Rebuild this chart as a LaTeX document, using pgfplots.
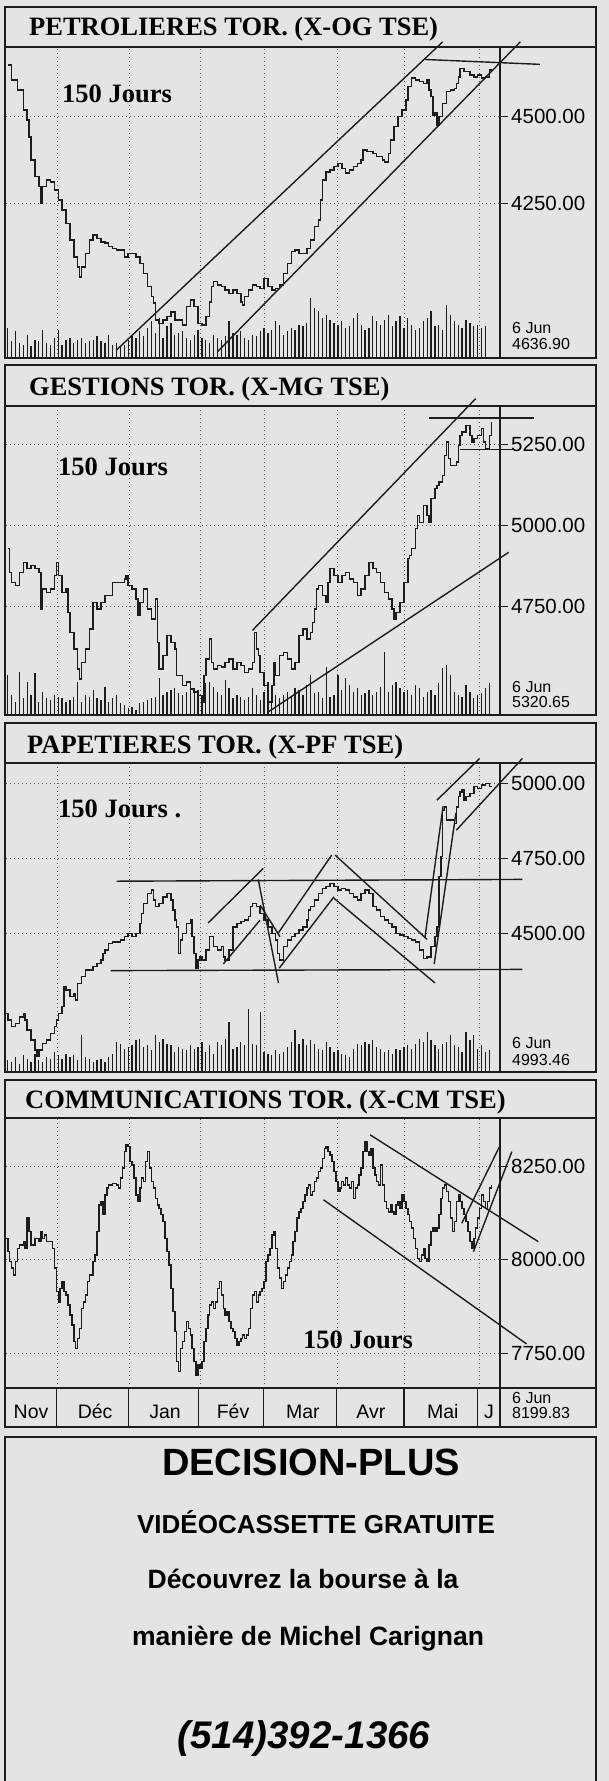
\documentclass[border=0pt]{standalone}
\usepackage{pgfplots}
\pgfplotsset{compat=1.18}
\usepackage{fontspec}
\setmainfont{Liberation Serif}
\newfontfamily\sans{Liberation Sans}
\definecolor{paper}{RGB}{228,228,228}
\definecolor{ink}{RGB}{28,28,28}
\newcommand\tickfont{\sans\fontsize{20.5}{20.5}\selectfont}
\newcommand\titlefont{\bfseries\fontsize{26.5}{26.5}\selectfont}
\newcommand\datefont{\sans\fontsize{16}{16}\selectfont}
\newcommand\monthfont{\sans\fontsize{19.5}{19.5}\selectfont}
\pgfplotsset{
  price/.style={
    scale only axis, width=494pt,
    xmin=-0.455, xmax=126.75,
    axis line style={draw=none},
    xtick={12.8,31.3,49.5,66,84.8,102.2,121.5},
    xticklabels={},
    xtick style={draw=none},
    xmajorgrids, ymajorgrids,
    grid style={ink!75, line width=1pt, dash pattern=on 1pt off 3pt},
    ytick pos=right,
    tick align=outside,
    major tick length=8pt,
    ytick style={ink, line width=1pt},
    yticklabel style={font=\tickfont, anchor=west, inner sep=0pt, xshift=3pt},
    /pgf/number format/assume math mode=true,
    yticklabel={\pgfmathprintnumber[fixed,fixed zerofill,precision=2,1000 sep={}]{\tick}},
    clip=false,
  },
  vol/.style={scale only axis, width=494pt, xmin=-0.455, xmax=126.75, ymin=0, ymax=930, hide axis},
  pline/.style={const plot, ink, line width=1.5pt},
  trend/.style={ink, line width=1.4pt},
}
\begin{document}
\begin{tikzpicture}[x=1pt,y=1pt]
\useasboundingbox (0,0) rectangle (609,-1781);
\fill[paper] (0,0) rectangle (609,-1781);

% ---------------- Panel 1 : PETROLIERES ----------------
\begin{axis}[price, at={(6pt,-358pt)}, anchor=south west, height=311pt,
  ymin=3804, ymax=4701, ytick={4250,4500}]
\addplot[pline] coordinates {(0,4649)(1,4606)(2.5,4577)(4,4519)(5,4490)(5.5,4442)(6,4375)(7,4327)(8,4298)(8.5,4250)(9,4298)(10,4317)(11,4312)(12,4288)(13,4260)(14,4231)(15,4192)(16,4144)(17,4096)(18,4067)(18.5,4038)(19,4067)(20,4106)(21,4144)(22,4159)(23,4149)(24,4139)(25,4135)(26,4125)(27,4120)(28,4115)(29,4115)(30,4096)(31,4106)(32,4106)(33,4096)(34,4077)(35,4048)(36,4010)(37,3981)(37.5,3962)(38,3914)(39,3904)(40,3914)(41,3923)(42,3937)(43,3914)(44,3914)(45,3899)(46,3952)(47,3971)(48,3952)(49,3904)(50,3899)(51,3923)(52,3966)(52.5,4010)(53,4024)(54,4014)(55,4010)(56,4000)(57,3990)(58,4000)(59,3990)(60,3966)(60.5,3957)(61,3981)(62,4000)(63,4014)(64,4010)(65,4005)(66,4034)(67,4010)(68,4000)(69,4005)(70,4014)(71,4048)(72,4077)(73,4111)(74,4115)(75,4106)(76,4106)(77,4120)(78,4144)(79,4183)(80,4202)(80.5,4260)(81,4317)(82,4341)(83,4346)(84,4356)(85,4365)(86,4351)(87,4337)(88,4346)(89,4356)(90,4365)(91,4375)(91.5,4404)(92.5,4399)(94,4394)(95,4385)(96.5,4375)(97,4370)(98,4394)(98.5,4433)(99.5,4471)(100.5,4500)(101.5,4519)(102.5,4548)(103,4587)(104,4611)(105,4606)(106,4601)(107,4596)(108,4606)(108.5,4577)(109,4558)(109.5,4505)(110,4510)(110.5,4476)(111,4500)(112,4538)(113,4572)(114,4577)(115,4582)(115.5,4596)(116,4615)(116.5,4639)(117.5,4630)(119,4620)(120,4615)(121,4620)(122,4611)(123,4615)(124,4635)(124.5,4637)};
\addplot[trend] coordinates {(28,3827)(112,4716)};
\addplot[trend] coordinates {(54,3822)(132,4716)};
\addplot[trend] coordinates {(107.5,4665)(137,4651)};
\end{axis}
\begin{axis}[vol, at={(6pt,-358pt)}, anchor=south west, height=311pt]
\addplot[ycomb, ink, line width=1.3pt] table[x expr=\coordindex, y index=0, header=false, row sep=\\] {90\\50\\80\\45\\40\\70\\35\\55\\50\\85\\45\\40\\60\\85\\40\\55\\60\\45\\55\\60\\45\\50\\55\\65\\50\\45\\70\\40\\45\\35\\40\\55\\70\\60\\80\\65\\90\\110\\75\\120\\60\\95\\105\\70\\75\\80\\60\\55\\70\\85\\60\\55\\45\\70\\60\\55\\65\\110\\75\\70\\80\\60\\55\\70\\65\\80\\90\\75\\85\\110\\100\\70\\80\\90\\85\\100\\95\\105\\180\\150\\140\\120\\130\\115\\105\\100\\110\\90\\95\\120\\135\\100\\85\\90\\125\\110\\100\\115\\130\\95\\110\\125\\90\\120\\100\\85\\90\\110\\120\\140\\95\\100\\85\\160\\130\\110\\100\\90\\115\\105\\95\\100\\90\\95\\};
\end{axis}

% ---------------- Panel 2 : GESTIONS ----------------
\begin{axis}[price, at={(6pt,-715pt)}, anchor=south west, height=309pt,
  ymin=4413, ymax=5370, ytick={4750,5000,5250}]
\addplot[pline] coordinates {(0,4928)(0.5,4855)(1,4824)(2,4814)(3,4855)(4,4886)(5,4866)(6,4876)(7,4866)(8,4855)(8.5,4742)(9,4804)(10,4793)(11,4804)(12,4845)(12.5,4886)(13,4845)(14,4793)(15,4804)(15.5,4731)(16,4669)(17,4618)(18,4556)(18.5,4525)(19,4576)(20,4618)(21,4680)(22,4762)(23,4742)(24,4762)(25,4783)(26,4783)(27,4824)(28,4824)(29,4824)(30,4835)(30.5,4845)(31,4814)(32,4804)(33,4773)(33.5,4721)(34,4762)(35,4804)(36,4742)(37,4711)(38,4773)(38.5,4638)(39,4556)(40,4597)(41,4659)(42,4638)(43,4618)(43.5,4535)(45,4504)(46,4515)(47,4494)(48,4484)(49,4473)(50,4453)(50.5,4535)(51,4587)(52,4649)(52.5,4576)(53,4556)(54,4566)(55,4561)(56,4576)(57,4587)(58,4556)(59,4576)(60,4566)(61,4545)(62,4556)(63,4576)(63.5,4669)(64,4618)(64.5,4597)(65,4545)(66,4504)(67,4453)(68,4504)(68.5,4576)(69,4535)(70,4597)(71,4607)(72,4587)(73,4556)(74,4576)(75,4659)(76,4680)(77,4649)(78,4669)(78.5,4700)(79,4742)(79.5,4804)(80,4814)(81,4783)(82,4762)(82.5,4824)(83,4866)(84,4845)(85,4824)(86,4845)(87,4855)(88,4835)(89,4824)(90,4783)(91,4804)(92,4845)(93,4886)(94,4866)(95,4855)(96,4824)(97,4793)(98,4773)(99,4742)(99.5,4711)(100,4731)(101,4762)(102,4824)(103,4897)(103.5,4907)(104,4928)(105,4990)(105.5,5031)(106,5010)(107,5062)(108,5031)(108.5,5010)(109,5083)(110,5114)(110.5,5124)(111,5134)(112,5155)(112.5,5217)(113,5258)(113.5,5207)(114,5186)(115,5186)(115.5,5196)(116,5248)(116.5,5279)(117,5289)(118,5310)(119,5279)(119.5,5258)(120,5269)(121,5279)(122,5300)(122.5,5258)(123,5238)(124,5279)(124.5,5321)};
\addplot[trend] coordinates {(63,4675)(120.5,5393)};
\addplot[trend] coordinates {(67,4422)(129,4917)};
\addplot[trend] coordinates {(108.5,5333)(135.5,5333)};
\addplot[trend] coordinates {(116.5,5236)(130.5,5236)};
\end{axis}
\begin{axis}[vol, at={(6pt,-715pt)}, anchor=south west, height=309pt]
\addplot[ycomb, ink, line width=1.3pt] table[x expr=\coordindex, y index=0, header=false, row sep=\\] {120\\60\\40\\130\\50\\100\\60\\125\\40\\70\\50\\45\\60\\55\\50\\40\\45\\55\\100\\40\\60\\55\\75\\50\\45\\85\\40\\50\\60\\35\\30\\20\\25\\15\\35\\40\\45\\50\\55\\110\\60\\70\\75\\80\\65\\60\\70\\90\\80\\75\\60\\95\\100\\85\\70\\60\\105\\80\\50\\60\\55\\45\\55\\80\\60\\45\\70\\100\\55\\60\\50\\60\\70\\55\\80\\75\\60\\90\\120\\65\\70\\50\\145\\55\\60\\120\\75\\110\\90\\70\\80\\60\\65\\75\\60\\70\\85\\190\\70\\90\\100\\80\\70\\75\\60\\90\\80\\55\\70\\75\\60\\95\\140\\150\\120\\70\\60\\55\\90\\70\\50\\60\\65\\80\\95\\};
\end{axis}

% ---------------- Panel 3 : PAPETIERES ----------------
\begin{axis}[price, at={(6pt,-1072pt)}, anchor=south west, height=309pt,
  ymin=4038, ymax=5068, ytick={4500,4750,5000}]
\addplot[pline] coordinates {(-0.4,4233)(0,4211)(1,4189)(2,4200)(3,4222)(4,4233)(4.5,4211)(5,4178)(6,4144)(7,4111)(7.5,4089)(8,4111)(9,4133)(10,4144)(11,4167)(12,4189)(12.5,4211)(13,4233)(14,4256)(14.5,4322)(15,4311)(16,4289)(17,4300)(17.5,4278)(18,4333)(19,4356)(20,4378)(21,4378)(22,4389)(23,4400)(24,4411)(24.5,4433)(25,4444)(26,4467)(27,4472)(28,4472)(29,4478)(30,4489)(31,4500)(32,4489)(33,4500)(34,4533)(34.5,4567)(35,4600)(36,4633)(37,4644)(37.5,4611)(38,4589)(39,4600)(40,4622)(41,4633)(42,4611)(42.5,4578)(43,4545)(43.5,4522)(44,4433)(44.5,4478)(45,4500)(46,4533)(47,4545)(47.5,4489)(48,4433)(48.5,4383)(49,4411)(49.5,4422)(50,4411)(51,4444)(52,4489)(53,4456)(54,4444)(55,4456)(55.5,4422)(56,4411)(57,4444)(58,4522)(59,4533)(60,4539)(61,4544)(62,4556)(62.5,4589)(63,4600)(64,4589)(65,4567)(66,4544)(67,4522)(68,4500)(69,4478)(69.5,4433)(70,4411)(71,4456)(72,4478)(73,4489)(74,4500)(75,4511)(76,4522)(77,4544)(77.5,4578)(78,4589)(79,4611)(80,4633)(81,4650)(82,4656)(83,4667)(84,4656)(85,4644)(86,4650)(87,4644)(88,4633)(89,4622)(90,4611)(91,4633)(92,4644)(93,4633)(94,4589)(95,4578)(96,4556)(97,4544)(98,4533)(99,4522)(100,4500)(101,4494)(102,4489)(103,4483)(104,4478)(105,4472)(106,4444)(107,4417)(108,4422)(109,4456)(110,4489)(110.5,4522)(111,4689)(111.5,4756)(112,4911)(112.5,4922)(113,4878)(114,4878)(115,4867)(115.5,4922)(116,4956)(116.5,4972)(117,4978)(117.5,4944)(118,4956)(119,4967)(120,4989)(121,4983)(122,4994)(123,5000)(124,4989)(124.5,4993)};
\addplot[trend] coordinates {(28,4674)(132.5,4680)};
\addplot[trend] coordinates {(26.5,4376)(132.5,4380)};
\addplot[trend] coordinates {(51.6,4535)(65.8,4717)};
\addplot[trend] coordinates {(55.5,4398)(64.95,4544)};
\addplot[trend] coordinates {(64.5,4680)(69.7,4335)};
\addplot[trend] coordinates {(65,4594)(70.1,4489)};
\addplot[trend] coordinates {(69.7,4502)(83.4,4761)};
\addplot[trend] coordinates {(69.9,4384)(84,4622)};
\addplot[trend] coordinates {(84.3,4761)(108,4480)};
\addplot[trend] coordinates {(84,4617)(110,4335)};
\addplot[trend] coordinates {(107.4,4484)(112.1,4924)};
\addplot[trend] coordinates {(109.8,4398)(115.4,4901)};
\addplot[trend] coordinates {(110.5,4944)(121.5,5083)};
\addplot[trend] coordinates {(115.5,4844)(132.5,5083)};
\end{axis}
\begin{axis}[vol, at={(6pt,-1072pt)}, anchor=south west, height=309pt]
\addplot[ycomb, ink, line width=1.3pt] table[x expr=\coordindex, y index=0, header=false, row sep=\\] {35\\30\\45\\25\\50\\40\\30\\55\\35\\30\\45\\40\\60\\50\\40\\55\\45\\50\\35\\110\\45\\40\\30\\35\\40\\30\\45\\55\\90\\85\\70\\75\\80\\95\\100\\75\\80\\65\\110\\90\\100\\85\\80\\60\\75\\70\\65\\80\\70\\75\\90\\60\\80\\55\\90\\80\\100\\150\\70\\75\\90\\80\\190\\85\\80\\180\\60\\55\\50\\65\\55\\60\\75\\90\\125\\85\\100\\80\\95\\85\\70\\65\\90\\75\\60\\65\\55\\50\\45\\70\\85\\80\\90\\85\\95\\75\\70\\60\\65\\55\\70\\65\\75\\80\\70\\85\\100\\90\\120\\95\\80\\70\\85\\90\\110\\80\\75\\60\\120\\95\\110\\70\\80\\60\\65\\};
\end{axis}

% ---------------- Panel 4 : COMMUNICATIONS ----------------
\begin{axis}[price, at={(6pt,-1388pt)}, anchor=south west, height=270pt,
  ymin=7657, ymax=8380, ytick={7750,8000,8250},
  extra x ticks={6,22.5,40.5,58,76,93.5,112,123.9},
  extra x tick labels={Nov,Déc,Jan,Fév,Mar,Avr,Mai,J},
  extra x tick style={grid=none, major tick length=0pt,
    xticklabel style={font=\monthfont, anchor=base, yshift=-30pt}}]
\addplot[pline] coordinates {(-0.4,8058)(0,8022)(0.5,7996)(1,7978)(1.5,7960)(2,7996)(2.5,8031)(3,8040)(4,8049)(4.5,8031)(5,8112)(5.5,8076)(6,8040)(7,8058)(8,8049)(8.5,8076)(9,8058)(9.5,8067)(10,8049)(11,8049)(11.5,8031)(12,7978)(12.5,7915)(13,7888)(13.5,7924)(14,7942)(14.5,7915)(15,7906)(15.5,7879)(16,7853)(16.5,7826)(17,7781)(17.5,7763)(18,7790)(18.5,7817)(19,7870)(19.5,7888)(20,7906)(20.5,7942)(21,7960)(22,7996)(22.5,8013)(23,8076)(23.5,8147)(24,8156)(24.5,8121)(25,8174)(25.5,8192)(26,8201)(27,8205)(28,8201)(28.5,8192)(29,8219)(29.5,8246)(30,8290)(30.5,8308)(31,8304)(31.5,8263)(32,8254)(32.5,8219)(33,8174)(33.5,8156)(34,8192)(34.5,8219)(35,8210)(35.5,8263)(36,8290)(36.5,8246)(37,8210)(37.5,8192)(38,8165)(38.5,8147)(39,8138)(39.5,8121)(40,8103)(40.5,8058)(41,8022)(41.5,7987)(42,7924)(42.5,7862)(43,7808)(43.5,7728)(44,7701)(44.5,7763)(45,7781)(45.5,7808)(46,7835)(46.5,7817)(47,7799)(47.5,7763)(48,7728)(48.5,7692)(49,7719)(49.5,7710)(50,7728)(50.5,7781)(51,7817)(51.5,7853)(52,7879)(52.5,7888)(53,7870)(53.5,7888)(54,7924)(54.5,7942)(55,7906)(55.5,7870)(56,7853)(56.5,7862)(57,7835)(57.5,7817)(58,7808)(58.5,7790)(59,7772)(59.5,7781)(60,7790)(60.5,7799)(61,7790)(61.5,7799)(62,7817)(62.5,7870)(63,7906)(63.5,7915)(64,7888)(64.5,7906)(65,7915)(65.5,7924)(66,7942)(66.5,7996)(67,8013)(67.5,8031)(68,8067)(68.5,8076)(69,8031)(69.5,7978)(70,7951)(70.5,7924)(71,7942)(71.5,7960)(72,7978)(72.5,7996)(73,8013)(73.5,8049)(74,8076)(74.5,8112)(75,8129)(75.5,8138)(76,8156)(76.5,8174)(77,8192)(77.5,8201)(78,8174)(78.5,8183)(79,8210)(79.5,8219)(80,8237)(80.5,8246)(81,8272)(81.5,8299)(82,8304)(82.5,8290)(83,8281)(83.5,8263)(84,8237)(84.5,8210)(85,8183)(85.5,8192)(86,8210)(86.5,8201)(87,8219)(87.5,8201)(88,8192)(88.5,8210)(89,8165)(89.5,8192)(90,8201)(90.5,8228)(91,8246)(91.5,8290)(92,8317)(92.5,8290)(93,8281)(93.5,8299)(94,8246)(94.5,8228)(95,8210)(95.5,8201)(96,8254)(96.5,8201)(97,8156)(97.5,8138)(98,8129)(98.5,8147)(99,8129)(99.5,8121)(100,8147)(100.5,8156)(101,8138)(101.5,8174)(102,8156)(102.5,8138)(103,8121)(103.5,8103)(104,8085)(104.5,8058)(105,8031)(105.5,8004)(106,7996)(106.5,8013)(107,8031)(107.5,8004)(108,7996)(108.5,8040)(109,8076)(109.5,8085)(110,8076)(110.5,8085)(111,8121)(111.5,8165)(112,8192)(112.5,8201)(113,8183)(113.5,8156)(114,8112)(114.5,8076)(115,8103)(115.5,8156)(116,8174)(116.5,8156)(117,8138)(117.5,8121)(118,8103)(118.5,8076)(119,8049)(119.5,8031)(120,8058)(120.5,8085)(121,8112)(121.5,8138)(122,8174)(122.5,8156)(123,8138)(123.5,8156)(124,8192)(124.5,8200)};
\addplot[trend] coordinates {(93.3,8335)(136.6,8049)};
\addplot[trend] coordinates {(81.3,8161)(133.6,7775)};
\addplot[trend] coordinates {(119.9,8022)(129.8,8290)};
\addplot[trend] coordinates {(116.9,8098)(126.6,8303)};
\end{axis}

% ---------------- frames ----------------
\draw[ink, line width=1.8] (5,-7) rectangle (596,-358);
\draw[ink, line width=2.8] (5,-47) -- (596,-47);
\draw[ink, line width=1.5] (500,-47) -- (500,-358);

\draw[ink, line width=1.8] (5,-365) rectangle (596,-715);
\draw[ink, line width=2.8] (5,-406) -- (596,-406);
\draw[ink, line width=1.5] (500,-406) -- (500,-715);

\draw[ink, line width=1.8] (5,-723) rectangle (596,-1072);
\draw[ink, line width=2.8] (5,-763) -- (596,-763);
\draw[ink, line width=1.5] (500,-763) -- (500,-1072);

\draw[ink, line width=1.8] (5,-1080) rectangle (596,-1427);
\draw[ink, line width=2.8] (5,-1118) -- (596,-1118);
\draw[ink, line width=2.4] (5,-1388) -- (596,-1388);
\draw[ink, line width=1.5] (500,-1118) -- (500,-1427);
\foreach \s in {56.3,128.2,198.8,263.3,336.3,403.9,477.7}
  \draw[ink, line width=1.3] (\s,-1388) -- (\s,-1427);

\draw[ink, line width=1.8] (5,-1800) -- (5,-1437) -- (596,-1437) -- (596,-1800);

% ---------------- titles and notes ----------------
\node[anchor=base west, inner sep=0pt] at (29,-35) {\titlefont PETROLIERES TOR. (X-OG TSE)};
\node[anchor=base west, inner sep=0pt] at (29,-395) {\titlefont GESTIONS TOR. (X-MG TSE)};
\node[anchor=base west, inner sep=0pt] at (27,-753) {\titlefont PAPETIERES TOR. (X-PF TSE)};
\node[anchor=base west, inner sep=0pt] at (25,-1108) {\titlefont COMMUNICATIONS TOR. (X-CM TSE)};

\node[anchor=base west, inner sep=0pt] at (62,-102) {\titlefont 150 Jours};
\node[anchor=base west, inner sep=0pt] at (58,-475) {\titlefont 150 Jours};
\node[anchor=base west, inner sep=0pt] at (58,-817) {\titlefont 150 Jours .};
\node[anchor=base west, inner sep=0pt] at (303,-1348) {\titlefont 150 Jours};

\node[anchor=base west, inner sep=0pt] at (512,-333) {\datefont 6 Jun};
\node[anchor=base west, inner sep=0pt] at (512,-349) {\datefont 4636.90};
\node[anchor=base west, inner sep=0pt] at (512,-692) {\datefont 6 Jun};
\node[anchor=base west, inner sep=0pt] at (512,-707) {\datefont 5320.65};
\node[anchor=base west, inner sep=0pt] at (512,-1048) {\datefont 6 Jun};
\node[anchor=base west, inner sep=0pt] at (512,-1065) {\datefont 4993.46};
\node[anchor=base west, inner sep=0pt] at (512,-1403) {\datefont 6 Jun};
\node[anchor=base west, inner sep=0pt] at (512,-1418) {\datefont 8199.83};

% ---------------- advertisement ----------------
\node[anchor=base, inner sep=0pt] at (311,-1475) {\sans\bfseries\fontsize{38}{38}\selectfont DECISION-PLUS};
\node[anchor=base, inner sep=0pt] at (316,-1533) {\sans\bfseries\fontsize{26}{26}\selectfont VIDÉOCASSETTE GRATUITE};
\node[anchor=base, inner sep=0pt] at (303,-1588) {\sans\bfseries\fontsize{26.5}{26.5}\selectfont Découvrez la bourse à la};
\node[anchor=base, inner sep=0pt] at (308,-1645) {\sans\bfseries\fontsize{26.5}{26.5}\selectfont manière de Michel Carignan};
\node[anchor=base, inner sep=0pt] at (304,-1748) {\sans\bfseries\itshape\fontsize{38.5}{38.5}\selectfont (514)392-1366};
\end{tikzpicture}
\end{document}
